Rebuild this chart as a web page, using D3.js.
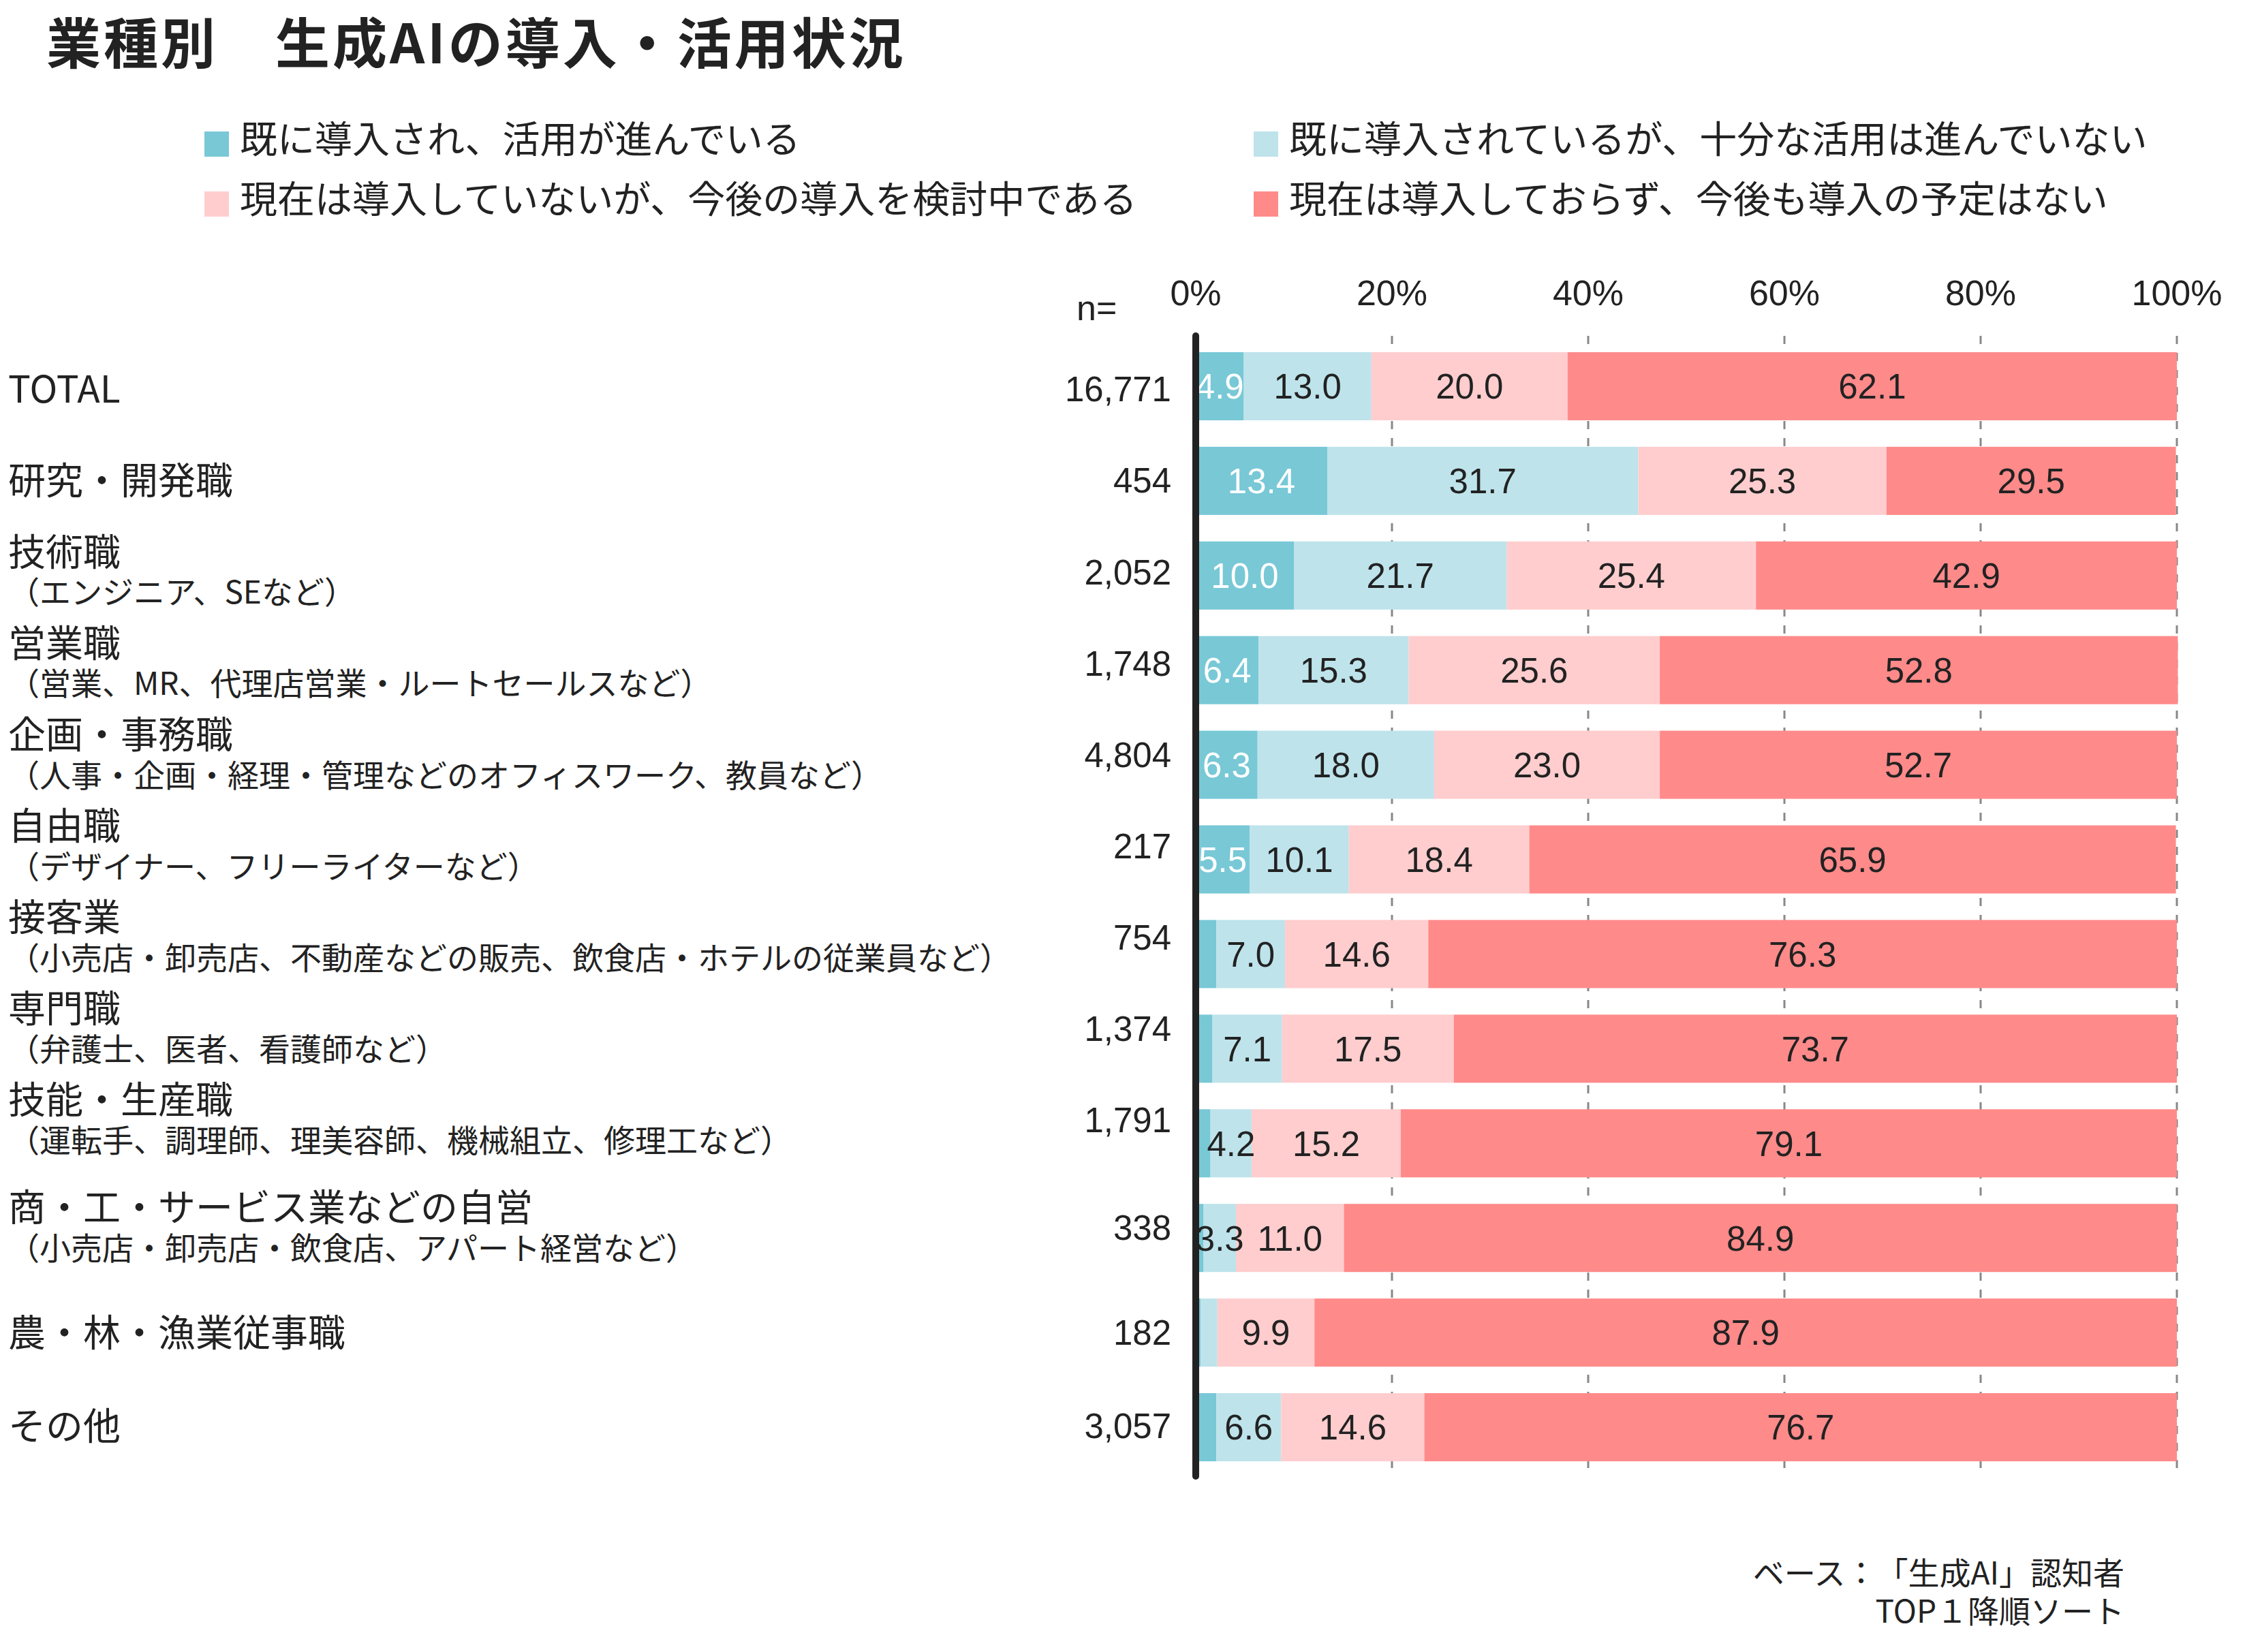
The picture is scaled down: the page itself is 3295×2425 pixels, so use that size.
<!DOCTYPE html>
<html lang="ja">
<head>
<meta charset="utf-8">
<script src="https://cdn.jsdelivr.net/npm/d3@7"></script>
<style>
  html, body { margin: 0; padding: 0; background: #fff; }
  svg { display: block; }
  text { text-spacing-trim: space-all; }
</style>
</head>
<body>
<svg id="chart" width="3295" height="2425"></svg>
<script>
// ---------------- data ----------------
const title = "業種別　生成AIの導入・活用状況";
const seriesNames = [
  "既に導入され、活用が進んでいる",
  "既に導入されているが、十分な活用は進んでいない",
  "現在は導入していないが、今後の導入を検討中である",
  "現在は導入しておらず、今後も導入の予定はない"
];
const categories = [
  "TOTAL", "研究・開発職", "技術職", "営業職", "企画・事務職", "自由職",
  "接客業", "専門職", "技能・生産職", "商・工・サービス業などの自営", "農・林・漁業従事職", "その他"
];
const subLabels = [
  "", "", "（エンジニア、SEなど）",
  "（営業、MR、代理店営業・ルートセールスなど）",
  "（人事・企画・経理・管理などのオフィスワーク、教員など）",
  "（デザイナー、フリーライターなど）",
  "（小売店・卸売店、不動産などの販売、飲食店・ホテルの従業員など）",
  "（弁護士、医者、看護師など）",
  "（運転手、調理師、理美容師、機械組立、修理工など）",
  "（小売店・卸売店・飲食店、アパート経営など）",
  "", ""
];
const nValues = ["16,771","454","2,052","1,748","4,804","217","754","1,374","1,791","338","182","3,057"];
const s1 = [4.9, 13.4, 10.0, 6.4, 6.3, 5.5, 2.1, 1.7, 1.5, 0.8, 0.5, 2.1];
const s2 = [13.0, 31.7, 21.7, 15.3, 18.0, 10.1, 7.0, 7.1, 4.2, 3.3, 1.7, 6.6];
const s3 = [20.0, 25.3, 25.4, 25.6, 23.0, 18.4, 14.6, 17.5, 15.2, 11.0, 9.9, 14.6];
const s4 = [62.1, 29.5, 42.9, 52.8, 52.7, 65.9, 76.3, 73.7, 79.1, 84.9, 87.9, 76.7];
const tickValues = [0, 20, 40, 60, 80, 100];
const nHeader = "n=";
const footnotes = ["ベース：「生成AI」認知者", "TOP１降順ソート"];

// ---------------- styling ----------------
const colors = ["#78C8D6", "#BEE3EB", "#FFCDCE", "#FF8A8A"];
const labelColors = ["#ffffff", "#222222", "#222222", "#222222"];
const JP = "'Noto Sans CJK JP', 'Noto Sans', sans-serif";
const NUM = "'Liberation Sans', Arial, sans-serif";
const TXT = "#222222";

const svg = d3.select("#chart");

const rows = categories.map((c, i) => ({
  cat: c, sub: subLabels[i], n: nValues[i],
  k0: s1[i], k1: s2[i], k2: s3[i], k3: s4[i]
}));
const keys = ["k0", "k1", "k2", "k3"];
const stacked = d3.stack().keys(keys)(rows);

const x = d3.scaleLinear().domain([0, 100]).range([1755, 3195]);
const y = d3.scaleBand().domain(categories).range([497.5, 2164.5])
  .paddingInner(0.28).paddingOuter(0.14);
// label block positions (text boxes sit on a slightly tighter grid than the bars)
const labelY = d3.scaleLinear().domain([0, 8, 9, 10, 11]).range([571, 1644, 1802, 1956, 2093]);

// ---------------- title ----------------
svg.append("text")
  .attr("x", 68).attr("y", 63).attr("dy", "0.37em")
  .attr("font-family", JP).attr("font-weight", 700).attr("font-size", 80)
  .attr("letter-spacing", 4)
  .attr("fill", TXT).text(title);

// ---------------- legend ----------------
const legendPos = [[300, 0], [1840, 0], [300, 1], [1840, 1]];
const leg = svg.append("g");
seriesNames.forEach((name, i) => {
  const [lx, r] = legendPos[i];
  const cy = 204 + r * 88;
  leg.append("rect").attr("x", lx).attr("y", cy - 11).attr("width", 36).attr("height", 37)
    .attr("fill", colors[i]);
  leg.append("text").attr("x", lx + 52).attr("y", cy).attr("dy", "0.37em")
    .attr("font-family", JP).attr("font-size", 55).attr("fill", TXT).text(name);
});

// ---------------- grid lines ----------------
svg.append("g").selectAll("line")
  .data(tickValues.filter(t => t > 0))
  .join("line")
  .attr("x1", d => x(d)).attr("x2", d => x(d))
  .attr("y1", 493).attr("y2", 2167)
  .attr("stroke", "#888").attr("stroke-width", 3)
  .attr("stroke-dasharray", "12,13");

// tick labels
svg.append("g").selectAll("text")
  .data(tickValues)
  .join("text")
  .attr("x", d => x(d)).attr("y", 448)
  .attr("text-anchor", "middle")
  .attr("font-family", NUM).attr("font-size", 52).attr("fill", TXT)
  .text(d => d + "%");

svg.append("text").attr("x", 1580).attr("y", 470)
  .attr("font-family", NUM).attr("font-size", 52).attr("fill", TXT).text(nHeader);

// ---------------- bars ----------------
const layers = svg.append("g").selectAll("g")
  .data(stacked).join("g")
  .attr("fill", (d, i) => colors[i]);

layers.selectAll("rect")
  .data(d => d)
  .join("rect")
  .attr("x", d => x(d[0]))
  .attr("y", d => y(d.data.cat))
  .attr("width", d => x(d[1]) - x(d[0]))
  .attr("height", y.bandwidth());

// value labels
const labG = svg.append("g");
stacked.forEach((layer, si) => {
  labG.selectAll(null)
    .data(layer.filter(d => (d[1] - d[0]) >= 3))
    .join("text")
    .attr("x", d => x((d[0] + d[1]) / 2))
    .attr("y", d => y(d.data.cat) + y.bandwidth() / 2)
    .attr("dy", "0.36em")
    .attr("text-anchor", "middle")
    .attr("font-family", NUM).attr("font-size", 51)
    .attr("fill", labelColors[si])
    .text(d => (d[1] - d[0]).toFixed(1));
});

// axis line
svg.append("line")
  .attr("x1", x(0)).attr("x2", x(0))
  .attr("y1", 493).attr("y2", 2167)
  .attr("stroke", TXT).attr("stroke-width", 10).attr("stroke-linecap", "round");

// ---------------- category labels & n ----------------
const catG = svg.append("g");
rows.forEach((r, i) => {
  const cy = labelY(i);
  if (r.sub) {
    catG.append("text").attr("x", 12).attr("y", cy - 30).attr("dy", "0.37em")
      .attr("font-family", JP).attr("font-size", 55).attr("fill", TXT).text(r.cat);
    catG.append("text").attr("x", 12).attr("y", cy + 30).attr("dy", "0.37em")
      .attr("font-family", JP).attr("font-size", 46).attr("fill", TXT).text(r.sub);
  } else {
    catG.append("text").attr("x", 12).attr("y", cy).attr("dy", "0.37em")
      .attr("font-family", JP).attr("font-size", 55).attr("fill", TXT).text(r.cat);
  }
  catG.append("text").attr("x", 1719).attr("y", cy).attr("dy", "0.36em")
    .attr("text-anchor", "end")
    .attr("font-family", NUM).attr("font-size", 51).attr("fill", TXT).text(r.n);
});

// ---------------- footnote ----------------
footnotes.forEach((t, i) => {
  svg.append("text").attr("x", 3118).attr("y", 2309 + i * 56).attr("dy", "0.37em")
    .attr("text-anchor", "end")
    .attr("font-family", JP).attr("font-size", 46).attr("fill", TXT).text(t);
});
</script>
</body>
</html>
